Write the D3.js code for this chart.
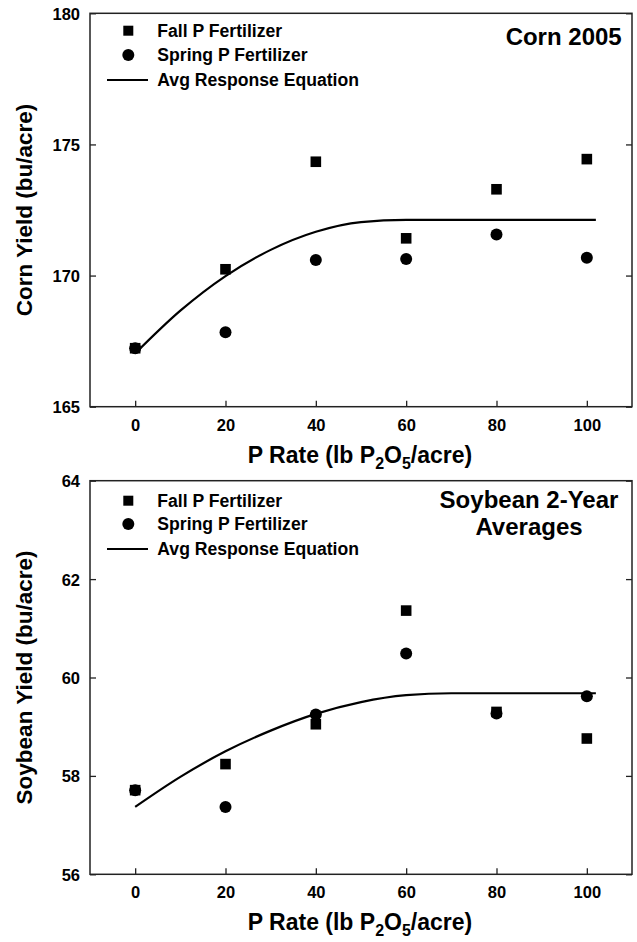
<!DOCTYPE html>
<html>
  <head>
    <meta charset="utf-8" />
    <title>P Rate Response</title>
    <script src="https://d3js.org/d3.v7.min.js"></script>
    <style>
      body { margin: 0; background: #fff; }
      svg { display: block; }
      text { font-family: "Liberation Sans", Arial, sans-serif; font-weight: bold; fill: #000; }
      .tick line { stroke: #222; stroke-width: 1.3; }
    </style>
  </head>
  <body>
    <svg width="637" height="942"></svg>
    <script>
      // P rates where plots were measured
      const rates = [0, 20, 40, 60, 80, 100];
      // points
      const curveRates = [0, 10, 20, 30, 40, 50, 60, 70, 80, 102];
      const xTicks = [0, 20, 40, 60, 80, 100];

      // Corn 2005
      const cornFall = [167.23, 170.24, 174.34, 171.42, 173.29, 174.44];
      const cornSpring = [167.23, 167.84, 170.59, 170.63, 171.57, 170.68];
      const cornAvg = [167.03, 168.66, 169.98, 170.98, 171.67, 172.04, 172.12, 172.12, 172.12, 172.12];
      const cornTicks = [165, 170, 175, 180];

      // Soybean 2-year averages
      const soyFall = [57.71, 58.24, 59.05, 61.36, 59.30, 58.76];
      const soySpring = [57.71, 57.37, 59.25, 60.49, 59.27, 59.62];
      const soyAvg = [57.37, 57.98, 58.50, 58.92, 59.26, 59.50, 59.64, 59.68, 59.68, 59.68];
      const soyTicks = [56, 58, 60, 62, 64];

      const legendLabels = ["Fall P Fertilizer", "Spring P Fertilizer", "Avg Response Equation"];

      const svg = d3.select("svg");
      const left = 90, right = 632;

      const x = d3.scaleLinear().domain([-10, 110]).range([left, right]);

      const panels = [
        {
          top: 13.3, bottom: 406.7, domain: [165, 180], ticks: cornTicks,
          fall: cornFall, spring: cornSpring, avg: cornAvg,
          yTitle: "Corn Yield (bu/acre)", title: ["Corn 2005"],
          titleX: 621.7, titleY: 45, titleAnchor: "end", legendY: [17.4, 41.7, 66.7]
        },
        {
          top: 480.7, bottom: 874.3, domain: [56, 64], ticks: soyTicks,
          fall: soyFall, spring: soySpring, avg: soyAvg,
          yTitle: "Soybean Yield (bu/acre)", title: ["Soybean 2-Year", "Averages"],
          titleX: 529, titleY: 508.3, titleAnchor: "middle", legendY: [20, 43.3, 68.3]
        }
      ];

      const squareSize = 10.6, dotR = 6;

      panels.forEach(p => {
        const y = d3.scaleLinear().domain(p.domain).range([p.bottom, p.top]);
        const g = svg.append("g");

        // axes with inward ticks
        const xAxis = g.append("g")
          .attr("transform", `translate(0,${p.bottom})`)
          .call(d3.axisBottom(x).tickValues(xTicks).tickSize(-6).tickSizeOuter(0));
        xAxis.select(".domain").remove();
        xAxis.selectAll("text").attr("y", 24).attr("dy", 0)
          .style("font-size", "16.5px").style("font-family", null);

        const yAxis = g.append("g")
          .attr("transform", `translate(${left},0)`)
          .call(d3.axisLeft(y).tickValues(p.ticks).tickSize(-6).tickPadding(10).tickSizeOuter(0));
        yAxis.select(".domain").remove();
        yAxis.selectAll("text").attr("dy", "0.36em")
          .style("font-size", "16.5px").style("font-family", null);

        const yRight = g.append("g")
          .attr("transform", `translate(${right},0)`)
          .call(d3.axisRight(y).tickValues(p.ticks).tickSize(-6).tickFormat("").tickSizeOuter(0));
        yRight.select(".domain").remove();

        g.append("rect")
          .attr("x", left).attr("y", p.top)
          .attr("width", right - left).attr("height", p.bottom - p.top)
          .attr("fill", "none").attr("stroke", "#222").attr("stroke-width", 1.5);

        // response curve
        const line = d3.line()
          .x((d, i) => x(curveRates[i]))
          .y(d => y(d))
          .curve(d3.curveMonotoneX);
        g.append("path").datum(p.avg)
          .attr("d", line)
          .attr("fill", "none").attr("stroke", "#000").attr("stroke-width", 2.2);

        // spring points
        g.selectAll(".spring").data(p.spring).enter().append("circle")
          .attr("class", "spring")
          .attr("cx", (d, i) => x(rates[i]))
          .attr("cy", d => y(d))
          .attr("r", dotR).attr("fill", "#000");

        // fall points
        g.selectAll(".fall").data(p.fall).enter().append("rect")
          .attr("class", "fall")
          .attr("x", (d, i) => x(rates[i]) - squareSize / 2)
          .attr("y", d => y(d) - squareSize / 2)
          .attr("width", squareSize).attr("height", squareSize)
          .attr("fill", "#000");

        // legend
        const lg = g.append("g").attr("transform", `translate(0,${p.top})`);
        lg.append("rect")
          .attr("x", 128.3 - 5).attr("y", p.legendY[0] - 5)
          .attr("width", 10).attr("height", 10).attr("fill", "#000");
        lg.append("circle")
          .attr("cx", 128.3).attr("cy", p.legendY[1]).attr("r", dotR).attr("fill", "#000");
        lg.append("line")
          .attr("x1", 107).attr("x2", 148)
          .attr("y1", p.legendY[2]).attr("y2", p.legendY[2])
          .attr("stroke", "#000").attr("stroke-width", 2.2);
        lg.selectAll(".lab").data(legendLabels).enter().append("text")
          .attr("class", "lab")
          .attr("x", 157.3)
          .attr("y", (d, i) => p.legendY[i])
          .attr("dy", "0.34em")
          .style("font-size", "17.6px")
          .text(d => d);

        // panel title
        g.selectAll(".ptitle").data(p.title).enter().append("text")
          .attr("class", "ptitle")
          .attr("x", p.titleX)
          .attr("y", (d, i) => p.titleY + i * 27)
          .attr("text-anchor", p.titleAnchor)
          .style("font-size", "24px")
          .text(d => d);

        // axis titles
        const xt = g.append("text")
          .attr("x", 360)
          .attr("y", p.bottom + 56)
          .attr("text-anchor", "middle")
          .style("font-size", "23px");
        xt.append("tspan").text("P Rate (lb P");
        xt.append("tspan").attr("dy", 6).style("font-size", "16px").text("2");
        xt.append("tspan").attr("dy", -6).text("O");
        xt.append("tspan").attr("dy", 6).style("font-size", "16px").text("5");
        xt.append("tspan").attr("dy", -6).text("/acre)");

        g.append("text")
          .attr("transform", `translate(32,${(p.top + p.bottom) / 2}) rotate(-90)`)
          .attr("text-anchor", "middle")
          .style("font-size", "22.5px")
          .text(p.yTitle);
      });
    </script>
  </body>
</html>
